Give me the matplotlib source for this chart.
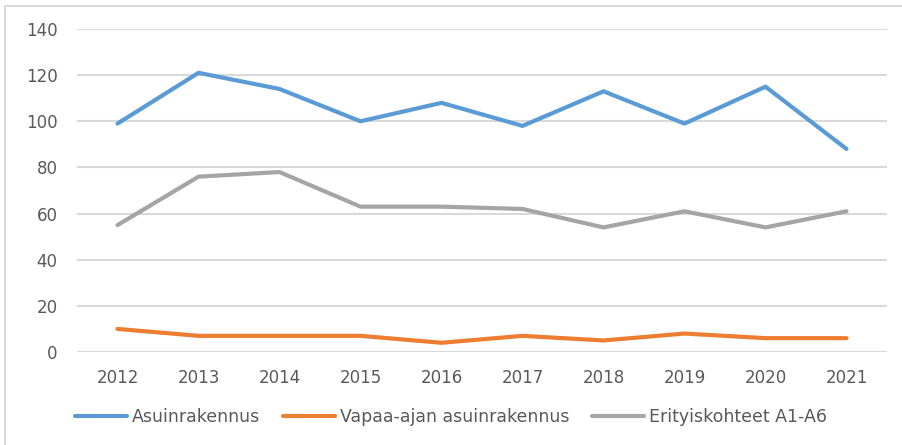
import matplotlib.pyplot as plt
from matplotlib.patches import Rectangle

# Data
years = ["2012", "2013", "2014", "2015", "2016", "2017", "2018", "2019", "2020", "2021"]
asuinrakennus = [99, 121, 114, 100, 108, 98, 113, 99, 115, 88]
vapaa_ajan = [10, 7, 7, 7, 4, 7, 5, 8, 6, 6]
erityiskohteet = [55, 76, 78, 63, 63, 62, 54, 61, 54, 61]

seriesNames = ["Asuinrakennus", "Vapaa-ajan asuinrakennus", "Erityiskohteet A1-A6"]
colors = ["#5B9BD5", "#ED7D31", "#A5A5A5"]
textColor = "#595959"

plt.rcParams["font.family"] = ["DejaVu Sans"]

fig = plt.figure(figsize=(9.02, 4.45), dpi=100)
W, H = 902, 445

# outer chart frame (cut at right/bottom in the reference)
fig.patches.append(Rectangle((5 / W, -0.1), 1.2, 1 - 6 / H + 0.1, transform=fig.transFigure,
                             fill=False, edgecolor="#D9D9D9", linewidth=1.5))

ax = fig.add_axes([77 / W, (H - 352) / H, (887 - 77) / W, (352 - 29) / H])

x = range(len(years))
for values, name, color in zip([asuinrakennus, vapaa_ajan, erityiskohteet], seriesNames, colors):
    ax.plot(x, values, color=color, linewidth=3, label=name, solid_capstyle="round", solid_joinstyle="round")

ax.set_xlim(-0.5, len(years) - 0.5)
ax.set_ylim(0, 140)
ax.set_yticks(range(0, 141, 20))
ax.set_xticks(list(x))
ax.set_xticklabels(years)

ax.grid(axis="y", color="#D9D9D9", linewidth=1.5)
ax.set_axisbelow(True)
for spine in ax.spines.values():
    spine.set_visible(False)
ax.tick_params(axis="both", length=0, colors=textColor, labelsize=12)
ax.tick_params(axis="y", pad=14)
ax.tick_params(axis="x", pad=12)

fig.legend(loc="center", bbox_to_anchor=(0.5, 1 - 417 / H), ncol=3, frameon=False,
           fontsize=12.5, labelcolor=textColor, handlelength=3.0, handletextpad=0.3,
           columnspacing=1.3)

fig.savefig("out.png", dpi=100)
